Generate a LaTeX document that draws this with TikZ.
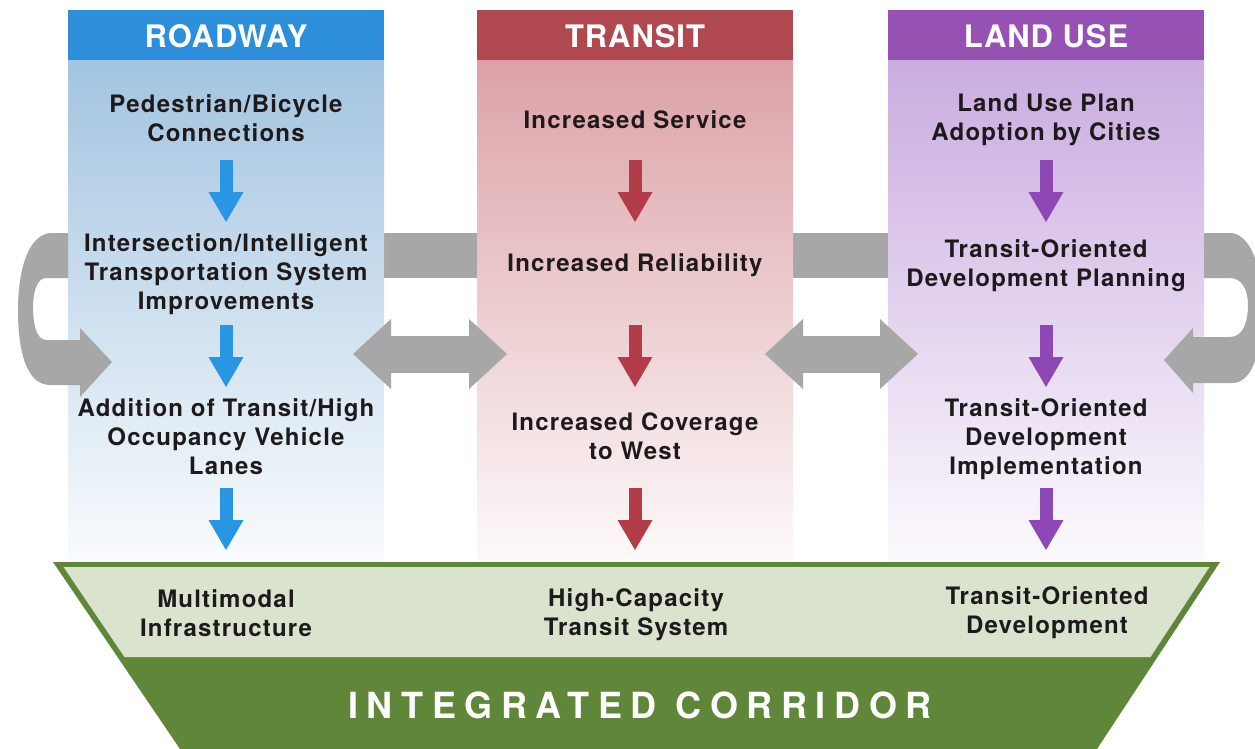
\documentclass[tikz,border=0pt]{standalone}
\usepackage{fontspec}
\setmainfont{TeX Gyre Heros}
\newfontfamily\bodyf{TeX Gyre Heros}[LetterSpace=5]
\newfontfamily\headf{TeX Gyre Heros}[LetterSpace=3]
\newfontfamily\corrf{TeX Gyre Heros}[LetterSpace=24]
\usetikzlibrary{arrows.meta,calc}

\definecolor{roadH}{RGB}{45,142,218}
\definecolor{roadB}{RGB}{163,196,224}
\definecolor{roadA}{RGB}{40,150,226}
\definecolor{tranH}{RGB}{176,72,80}
\definecolor{tranB}{RGB}{220,162,167}
\definecolor{tranA}{RGB}{178,60,72}
\definecolor{landH}{RGB}{150,82,178}
\definecolor{landB}{RGB}{202,172,224}
\definecolor{landA}{RGB}{142,72,182}
\definecolor{grayc}{RGB}{166,167,166}
\definecolor{darkg}{RGB}{96,134,58}
\definecolor{lightg}{RGB}{218,227,206}
\definecolor{txt}{RGB}{30,26,28}

\begin{document}
\begin{tikzpicture}[x=1pt,y=-1pt,
  lbl/.style={font=\bodyf\bfseries\fontsize{24}{29}\selectfont, align=center, text=txt, inner sep=0pt,
    execute at begin node=\strut, execute at end node=\strut},
  hdr/.style={font=\headf\bfseries\fontsize{31}{36}\selectfont, text=white, inner sep=0pt, anchor=base},
  flow/.style={line width=13pt, -{Triangle[width=35pt,length=30pt,line width=0pt]}},
  link/.style={line width=37pt, draw=grayc,
    {Triangle[width=70pt,length=38pt,line width=0pt]}-{Triangle[width=70pt,length=38pt,line width=0pt]}},
]
\clip (0,0) rectangle (1255,749);
\fill[white] (0,0) rectangle (1255,749);

% gray band behind columns
\fill[grayc] (60,233) rectangle (1215,278);

% columns
\shade[top color=roadB, bottom color=roadB!6!white] (68,60) rectangle (384,562);
\shade[top color=tranB, bottom color=tranB!6!white] (477,60) rectangle (793,562);
\shade[top color=landB, bottom color=landB!6!white] (888,60) rectangle (1204,562);
\fill[roadH] (68,10) rectangle (384,60);
\fill[tranH] (477,10) rectangle (793,60);
\fill[landH] (888,10) rectangle (1204,60);
\node[hdr] (hroad) at (226,48) {ROADWAY};
\node[hdr] (htran) at (635,48) {TRANSIT};
\node[hdr] (hland) at (1046,48) {LAND USE};

% U-shaped return arrows
\fill[grayc] (68,233) -- (50,233) .. controls (26,236) and (18,275) .. (18,310)
  .. controls (18,350) and (26,385) .. (50,385) -- (80,385) -- (80,397) -- (112,362)
  -- (80,328) -- (80,340) -- (46,340) .. controls (36,340) and (33,322) .. (33,308)
  .. controls (33,292) and (37,278) .. (46,278) -- (68,278) -- cycle;
\fill[grayc] (1204,233) -- (1232,233) .. controls (1252,236) and (1262,270) .. (1262,305)
  .. controls (1262,345) and (1255,383) .. (1232,383) -- (1193,383) -- (1193,393) -- (1164,360)
  -- (1193,328) -- (1193,337) -- (1230,337) .. controls (1244,337) and (1248,320) .. (1248,305)
  .. controls (1248,290) and (1242,278) .. (1230,278) -- (1204,278) -- cycle;

% double arrows between columns
\coordinate (da1) at (353,354);
\coordinate (db1) at (507,354);
\coordinate (da2) at (765,354);
\coordinate (db2) at (918,354);
\draw[link] (da1) -- (db1);
\draw[link] (da2) -- (db2);

% integrated corridor base
\fill[darkg] (53,562) -- (1220,562) -- (1097,749) -- (180,749) -- cycle;
\fill[lightg] (63.5,567) -- (1209.5,567) -- (1150.5,657) -- (124.5,657) -- cycle;

% labels
\node[lbl] (r1) at (226,122) {Pedestrian/Bicycle\\Connections};
\node[lbl] (r2) at (226,276) {Intersection/Intelligent\\Transportation System\\Improvements};
\node[lbl] (r3) at (226,441) {Addition of Transit/High\\Occupancy Vehicle\\Lanes};
\node[lbl] (t1) at (635,123) {Increased Service};
\node[lbl] (t2) at (635,266) {Increased Reliability};
\node[lbl] (t3) at (635,440) {Increased Coverage\\to West};
\node[lbl] (l1) at (1046,122) {Land Use Plan\\Adoption by Cities};
\node[lbl] (l2) at (1046,267) {Transit-Oriented\\Development Planning};
\node[lbl] (l3) at (1046,441) {Transit-Oriented\\Development\\Implementation};

\node[lbl] (r4) at (226,617) {Multimodal\\Infrastructure};
\node[lbl] (t4) at (636,616) {High-Capacity\\Transit System};
\node[lbl] (l4) at (1047,614) {Transit-Oriented\\Development};
\node[font=\corrf\bfseries\fontsize{36}{40}\selectfont, text=white, anchor=base, inner sep=0pt] (ic) at (640,718) {INTEGRATED CORRIDOR};

% flow arrows
\foreach \x/\c/\n in {226/roadA/r,635/tranA/t,1046/landA/l}{
  \foreach \i/\s in {1/160,2/325,3/488}{
    \coordinate (\n s\i) at (\x,\s);
    \coordinate (\n e\i) at (\x,\s+62);
    \draw[flow,draw=\c] (\n s\i) -- (\n e\i);
  }
}
\end{tikzpicture}
\end{document}
